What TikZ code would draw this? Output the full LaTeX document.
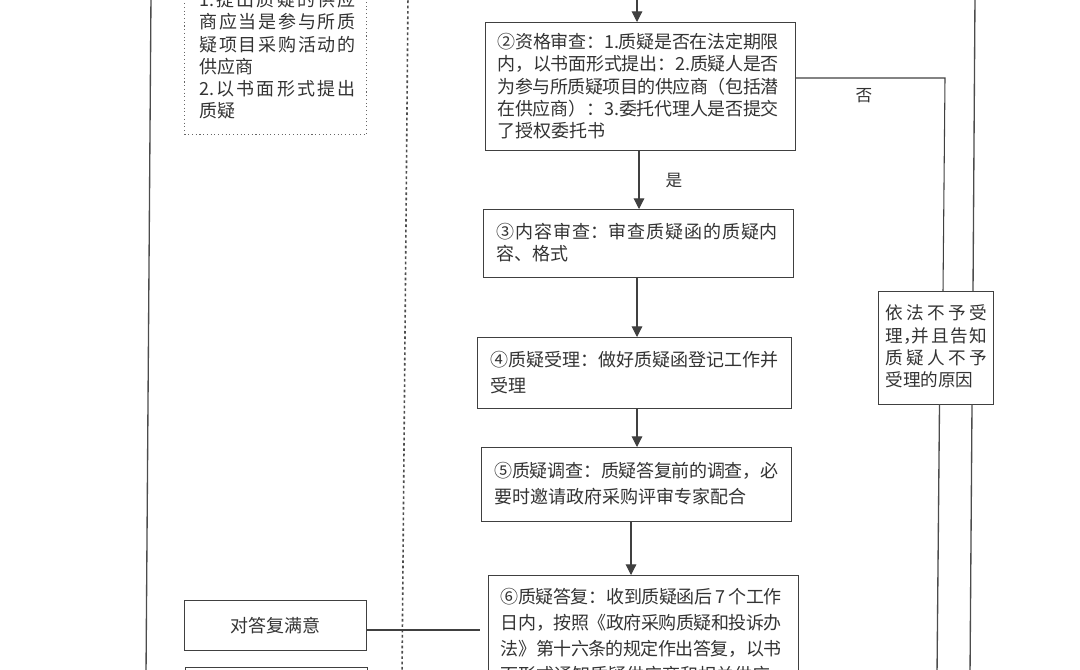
\documentclass[tikz,border=0pt]{standalone}
\usepackage{fontspec}
\setmainfont{Noto Sans CJK SC}
\XeTeXlinebreaklocale "zh"
\XeTeXlinebreakskip=0pt plus 3pt minus 0.5pt
\usepackage{tikz}
\tikzset{
  stepbox/.style={draw=black!75,line width=0.8pt,anchor=north west,inner sep=0pt,font=\fontsize{13.5pt}{16.6pt}\selectfont\color{black!80}},
  bodytext/.style={align=justify,text width=#1},
  loosetext/.style={font=\fontsize{13.5pt}{19.4pt}\selectfont\color{black!80}},
  notebox/.style={stepbox,draw=black!60,dotted},
  flowline/.style={draw=black!75,line width=0.8pt},
  flowarrow/.style={flowline,-{Triangle[length=8pt,width=8pt]}},
  framerule/.style={draw=black!70,line width=1pt},
  branchlabel/.style={font=\fontsize{12.5pt}{15pt}\selectfont\color{black!80},inner sep=0pt},
}
\usetikzlibrary{arrows.meta}
\begin{document}
\begin{tikzpicture}[x=0.75pt,y=0.75pt,yscale=-1,xscale=1]
    \useasboundingbox (0,0) rectangle (1080,669);
    \clip (0,0) rectangle (1080,669);

    %Shape: Qualification box
    \node[stepbox,minimum width=232.5pt,minimum height=96pt] (qualify) at (485,22) {};
    \node[stepbox,draw=none,bodytext=211pt,anchor=north west] (qualifytext) at (497,33) {②资格审查：1.质疑是否在法定期限\linebreak 内，以书面形式提出：2.质疑人是否\linebreak 为参与所质疑项目的供应商（包括潜\linebreak 在供应商）：3.委托代理人是否提交\linebreak 了授权委托书};
    %Shape: Content box
    \node[stepbox,minimum width=232.5pt,minimum height=51pt] (content) at (483,209) {};
    \node[stepbox,draw=none,bodytext=211pt] (contenttext) at (496,223) {③内容审查：审查质疑函的质疑内\linebreak 容、格式};
    %Shape: Acceptance box
    \node[stepbox,minimum width=235.5pt,minimum height=53pt] (accept) at (477,337) {};
    \node[stepbox,draw=none,bodytext=216pt,loosetext] (accepttext) at (490,351) {④质疑受理：做好质疑函登记工作并\linebreak 受理};
    %Shape: Investigation box
    \node[stepbox,minimum width=232.5pt,minimum height=55.5pt] (survey) at (481,447) {};
    \node[stepbox,draw=none,bodytext=213pt,loosetext] (surveytext) at (494,462) {⑤质疑调查：质疑答复前的调查，必\linebreak 要时邀请政府采购评审专家配合};
    %Shape: Reply box
    \node[stepbox,minimum width=232.5pt,minimum height=90pt] (reply) at (488,575) {};
    \node[stepbox,draw=none,bodytext=211pt,loosetext] (replytext) at (500,588) {⑥质疑答复：收到质疑函后 7 个工作\linebreak 日内，按照《政府采购质疑和投诉办\linebreak 法》第十六条的规定作出答复，以书\linebreak 面形式通知质疑供应商和相关供应};
    %Shape: Supplier note box
    \node[notebox,minimum width=136.5pt,minimum height=120pt] (supplier) at (184,-26) {};
    \node[stepbox,draw=none,bodytext=117pt] (suppliertext) at (199,-9) {1.提出质疑的供应\linebreak 商应当是参与所质\linebreak 疑项目采购活动的\linebreak 供应商\\2.以书面形式提出\linebreak 质疑};
    %Shape: Satisfied box
    \node[stepbox,minimum width=136.5pt,minimum height=37.5pt,anchor=north west,align=center] (satisfied) at (184,600) {对答复满意};
    %Shape: Next box at the lower edge
    \node[stepbox,minimum width=136.5pt,minimum height=37.5pt] (nextbox) at (185,667) {};
    %Shape: Refusal box
    \node[stepbox,minimum width=86pt,minimum height=85pt] (refuse) at (878,291) {};
    \node[stepbox,draw=none,bodytext=76.5pt,font=\fontsize{13.2pt}{16.6pt}\selectfont\color{black!80}] (refusetext) at (885,304.5) {依法不予受\linebreak 理，\hspace{-.5em}并且告知\linebreak 质疑人不予\linebreak 受理的原因};

    %Frame and free line ends
    \coordinate (frametl) at (151,-5);
    \coordinate (framebl) at (146,675);
    \coordinate (framemt) at (408,-5);
    \coordinate (framemb) at (402,675);
    \coordinate (frametr) at (975,-5);
    \coordinate (framein) at (973,291);
    \coordinate (frameout) at (972,404);
    \coordinate (framebr) at (970,675);
    \coordinate (intake) at (637,-5);
    \coordinate (nocorner) at (945,78);
    \coordinate (noin) at (943,291);
    \coordinate (noout) at (939.5,404);
    \coordinate (nodown) at (937,675);

    %Straight Lines
    \draw[framerule] (frametl) -- (framebl);
    \draw[framerule,dash pattern=on 2pt off 2pt,line width=1.2pt] (framemt) -- (framemb);
    \draw[framerule] (frametr) -- (framein);
    \draw[framerule] (frameout) -- (framebr);
    \draw[flowarrow] (intake) -- (intake |- qualify.north);
    \draw[flowarrow] (639,150) -- (639,209);
    \draw[flowarrow] (637,277) -- (637,337);
    \draw[flowarrow] (637,408) -- (637,447);
    \draw[flowarrow] (631,521) -- (631,575);
    \draw[flowline,shorten >=6pt] (satisfied.east |- 0,630) -- (reply.west |- 0,630);
    \draw[flowline] (qualify.east |- nocorner) -- (nocorner) -- (noin);
    \draw[framerule] (noout) -- (nodown);

    % Text Node
    \node[branchlabel] (yeslabel) at (674,181) {是};
    % Text Node
    \node[branchlabel] (nolabel) at (864,96) {否};
\end{tikzpicture}
\end{document}
